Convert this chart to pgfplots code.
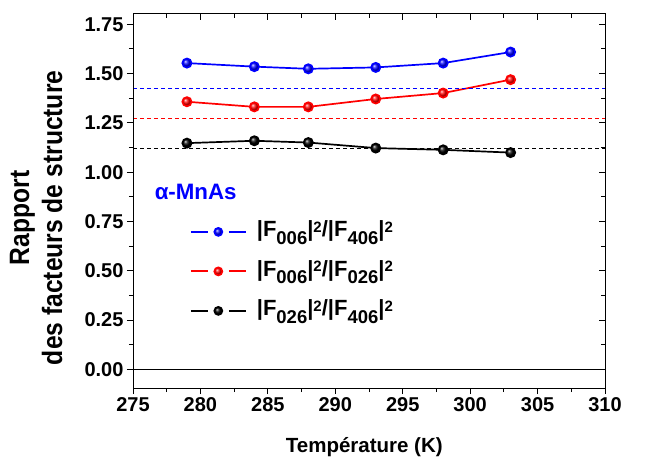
\documentclass[border=0pt]{standalone}
\usepackage{fontspec}
\setmainfont{Liberation Sans}
\usepackage{pgfplots}
\pgfplotsset{compat=1.18}
\usetikzlibrary{calc}
\newcommand{\sbs}[1]{\raisebox{-7.5pt}{\fontsize{18.5}{18.5}\selectfont #1}}
\newcommand{\sps}[1]{\raisebox{4.7pt}{\fontsize{15}{15}\selectfont #1}}
\begin{document}
\begin{tikzpicture}
\pgfplotsset{base/.style={
  scale only axis,
  width=472pt, height=374pt,
  xmin=275, xmax=310, ymin=-0.095, ymax=1.802,
  xtick={275,280,...,310},
  ytick={0,0.25,...,1.75},
  minor x tick num=1, minor y tick num=1,
  major tick length=6pt, minor tick length=4pt,
  every tick/.style={black, line width=0.9pt},
  axis line style={line width=1pt},
}}
\begin{axis}[base,
  tick align=outside,
  xtick pos=left, ytick pos=left,
  yticklabel style={/pgf/number format/.cd, fixed, fixed zerofill, precision=2},
  /pgf/number format/assume math mode=true,
  ticklabel style={font=\fontsize{20}{20}\selectfont\bfseries},
  xlabel={Température (K)},
  ylabel={\scalebox{0.88}[1]{\begin{tabular}{c}Rapport\\des facteurs de structure\end{tabular}}},
  xlabel style={font=\fontsize{20.5}{22}\selectfont\bfseries, at={(rel axis cs:0.49,0)}, anchor=base, yshift=-64.7pt},
  ylabel style={font=\fontsize{28}{33}\selectfont\bfseries, at={(rel axis cs:-0.199,0.455)}, anchor=center},
  legend style={at={(axis cs:279.2,0.4965)}, anchor=west, draw=none, fill=none,
    font=\fontsize{22}{22}\selectfont\bfseries, row sep=13.5pt, inner sep=0pt,
    nodes={inner sep=0pt, text height=18pt, text depth=8pt},
    /tikz/every odd column/.append style={column sep=10pt}},
  legend cell align=left,
  legend image code/.code={
    \draw[#1, mark=none, line width=2pt] (0pt,0pt) -- (17pt,0pt) (38pt,0pt) -- (55pt,0pt);
    \draw[#1, only marks, mark size=4pt] plot coordinates {(27.5pt,0pt)};
  },
  every axis plot/.append style={line width=1.7pt},
]
\addplot[blue, mark=ball, mark size=4.6pt, mark options={ball color=blue}] coordinates {
(279,1.553)(284,1.535)(288,1.524)(293,1.531)(298,1.553)(303,1.609)};
\addlegendentry{|F\sbs{006}|\sps{2}/|F\sbs{406}|\sps{2}}
\addplot[red, mark=ball, mark size=4.6pt, mark options={ball color=red}] coordinates {
(279,1.357)(284,1.331)(288,1.331)(293,1.371)(298,1.401)(303,1.469)};
\addlegendentry{|F\sbs{006}|\sps{2}/|F\sbs{026}|\sps{2}}
\addplot[black, mark=ball, mark size=4.6pt, mark options={ball color=black}] coordinates {
(279,1.147)(284,1.159)(288,1.150)(293,1.122)(298,1.113)(303,1.099)};
\addlegendentry{|F\sbs{026}|\sps{2}/|F\sbs{406}|\sps{2}}
\addplot[blue, dash pattern=on 4pt off 3pt, line width=1.2pt, forget plot] coordinates {(275,1.426)(310,1.426)};
\addplot[red, dash pattern=on 4pt off 3pt, line width=1.2pt, forget plot] coordinates {(275,1.271)(310,1.271)};
\addplot[black, dash pattern=on 4pt off 3pt, line width=1.2pt, forget plot] coordinates {(275,1.118)(310,1.118)};
\addplot[black, line width=1.3pt, forget plot] coordinates {(275,0)(310,0)};
\node[anchor=base west, blue, inner sep=0pt, font=\fontsize{22.3}{22}\selectfont\bfseries] at (axis cs:276.6,0.862) {α-MnAs};
\path (rel axis cs:0,0) coordinate (bl) (rel axis cs:1,1) coordinate (tr);
\end{axis}
\begin{axis}[base,
  tick align=inside,
  xtick pos=right, ytick pos=right,
  xticklabels={}, yticklabels={},
]
\end{axis}
\pgfresetboundingbox
\useasboundingbox ($(bl)+(-133pt,-70pt)$) rectangle ($(tr)+(49pt,14pt)$);
\end{tikzpicture}
\end{document}
